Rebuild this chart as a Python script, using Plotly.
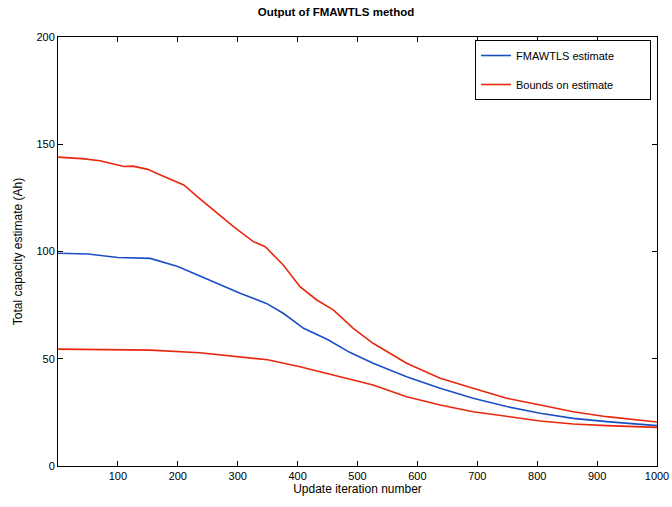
import plotly.graph_objects as go

est_x = [0, 50, 100, 154, 200, 237, 304, 348, 376, 410, 450, 487, 526, 582, 638, 693, 749, 805, 860, 916, 1000]
estimate = [99.2, 98.8, 97.2, 96.8, 93, 88.5, 80.5, 75.8, 71.2, 64.2, 59, 53, 47.9, 41.6, 36.2, 31.6, 27.7, 24.6, 22.2, 20.7, 18.8]

up_x = [0, 40, 70, 110, 125, 150, 170, 210, 237, 293, 326, 346, 376, 404, 432, 460, 493, 526, 582, 638, 693, 749, 805, 860, 916, 1000]
upper = [144, 143.3, 142.3, 139.6, 139.8, 138.3, 135.8, 131, 124.5, 111.6, 104.6, 102.2, 93.7, 83.6, 77.4, 72.7, 64.2, 57.2, 47.9, 40.9, 36.2, 31.6, 28.4, 25.3, 23, 20.5]

lo_x = [0, 154, 237, 320, 350, 404, 471, 526, 582, 638, 693, 749, 805, 860, 916, 1000]
lower = [54.5, 54, 52.8, 50.2, 49.5, 46.3, 41.6, 37.8, 32.3, 28.4, 25.3, 23, 21, 19.6, 18.8, 18]

x_ticks = [100, 200, 300, 400, 500, 600, 700, 800, 900, 1000]
y_ticks = [0, 50, 100, 150, 200]

BLUE = "#1a4fc4"
RED = "#e8280e"
PAD = "\u00a0" * 10

fig = go.Figure()
fig.add_trace(go.Scatter(x=est_x, y=estimate, mode="lines", name="FMAWTLS estimate" + PAD,
                         line=dict(color=BLUE, width=1.6), legendgroup="a"))
fig.add_trace(go.Scatter(x=up_x, y=upper, mode="lines", name="Bounds on estimate" + PAD,
                         line=dict(color=RED, width=1.6), legendgroup="b"))
fig.add_trace(go.Scatter(x=lo_x, y=lower, mode="lines", name="Bounds on estimate",
                         line=dict(color=RED, width=1.6), legendgroup="b", showlegend=False))

axis_common = dict(showline=True, linecolor="black", linewidth=1, mirror="ticks",
                   ticks="inside", ticklen=5, tickcolor="black", showgrid=False,
                   zeroline=False, automargin=False, tickfont=dict(size=11, color="black"))

fig.update_layout(
    width=672, height=507,
    margin=dict(l=58, r=15, t=37, b=41),
    paper_bgcolor="white", plot_bgcolor="white",
    font=dict(family="Liberation Sans, Arial, sans-serif", color="black", size=11),
    title=dict(text="<b>Output of FMAWTLS method</b>", x=0.5, xanchor="center",
               y=0.976, yanchor="middle", font=dict(size=11.5)),
    xaxis=dict(range=[0, 1000], tickvals=x_ticks,
               title=dict(text="Update iteration number", standoff=0, font=dict(size=12)),
               **axis_common),
    yaxis=dict(range=[0, 200], tickvals=y_ticks,
               title=dict(text="Total capacity estimate (Ah)", standoff=11, font=dict(size=12)),
               **axis_common),
    legend=dict(x=0.99, y=0.993, xanchor="right", yanchor="top",
                bordercolor="black", borderwidth=1, bgcolor="white",
                font=dict(size=11), tracegroupgap=10),
    showlegend=True,
)

fig.write_html("out.html", config={"displayModeBar": False},
               post_script="document.body.style.margin='0';")
